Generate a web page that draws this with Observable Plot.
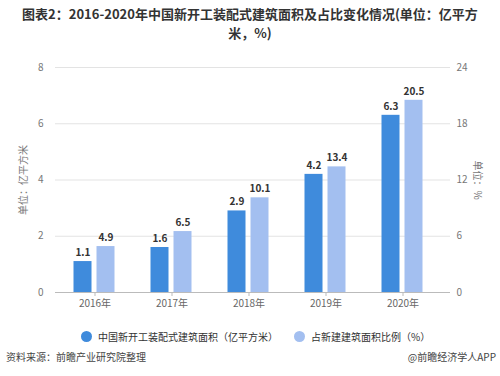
<!DOCTYPE html>
<html><head><meta charset="utf-8">
<script src="https://cdn.jsdelivr.net/npm/d3@7"></script>
<script src="https://cdn.jsdelivr.net/npm/@observablehq/plot@0.6"></script>
<style>
body{margin:0;background:#fff;font-family:"Noto Sans CJK SC","Noto Sans",sans-serif;}
#wrap{position:relative;width:500px;height:376px;overflow:hidden;background:#fff;}
.t{position:absolute;left:0;width:500px;text-align:center;font-size:13px;font-weight:bold;color:#333;line-height:15px;white-space:nowrap;}
#chart{position:absolute;left:0;top:40px;}
.ylab{position:absolute;font-size:10px;color:#777;white-space:nowrap;}
#legend{position:absolute;top:329px;left:0;width:500px;font-size:10px;color:#333;}
.lg{position:absolute;display:flex;align-items:center;white-space:nowrap;}
.dot{width:11px;height:11px;border-radius:50%;display:inline-block;margin-right:6px;}
#src{position:absolute;left:6px;top:349px;font-size:10px;color:#444;}
#app{position:absolute;right:4px;top:349px;font-size:10px;color:#444;}
</style></head>
<body>
<div id="wrap">
  <div class="t" style="top:6px;">图表2：2016-2020年中国新开工装配式建筑面积及占比变化情况(单位：亿平方</div>
  <div class="t" style="top:25px;">米，%)</div>
  <div id="chart"></div>
  <div class="ylab" id="yl" style="left:22px;top:180px;transform:translate(-50%,-50%) rotate(-90deg);">单位：亿平方米</div>
  <div class="ylab" id="yr" style="left:478px;top:180px;transform:translate(-50%,-50%) rotate(90deg);">单位：%</div>
  <div id="legend">
    <div class="lg" style="left:81px;"><span class="dot" style="background:#3f8bdc"></span>中国新开工装配式建筑面积（亿平方米）</div>
    <div class="lg" style="left:294px;"><span class="dot" style="background:#a3bff0"></span>占新建建筑面积比例（%）</div>
  </div>
  <div id="src">资料来源：前瞻产业研究院整理</div>
  <div id="app">@前瞻经济学人APP</div>
</div>
<script>
const years = ["2016年","2017年","2018年","2019年","2020年"];
const area = [1.1, 1.6, 2.9, 4.2, 6.3];
const share = [4.9, 6.5, 10.1, 13.4, 20.5];
const leftTicks = [0, 2, 4, 6, 8];
const rightTicks = [0, 6, 12, 18, 24];

const dark = "#3f8bdc", light = "#a3bff0";
const ratio = leftTicks[leftTicks.length-1] / rightTicks[rightTicks.length-1];
const dA = years.map((y,i)=>({year:y, v:area[i], label:area[i].toFixed(1)}));
const dS = years.map((y,i)=>({year:y, v:share[i]*ratio, label:share[i].toFixed(1)}));

const chart = Plot.plot({
  width: 500, height: 280,
  marginLeft: 55, marginRight: 50, marginTop: 27, marginBottom: 28,
  style: {fontFamily: '"Noto Sans CJK SC","Noto Sans",sans-serif', fontSize: "10px", color: "#666", background: "transparent"},
  x: {domain: years, range: [56, 441], padding: 0, label: null},
  y: {domain: [0, 8], label: null},
  marks: [
    Plot.ruleY(leftTicks.slice(1), {stroke: "#e3e3e3"}),
    Plot.ruleY([0], {stroke: "#bbb"}),
    Plot.barY(dA, {x: "year", y: "v", fill: dark, insetLeft: 17.5, insetRight: 41.5}),
    Plot.barY(dS, {x: "year", y: "v", fill: light, insetLeft: 40.5, insetRight: 18.5}),
    Plot.text(dA, {x: "year", y: "v", text: "label", dx: -12, dy: -9, fill: "#333", fontWeight: "bold", fontSize: 10}),
    Plot.text(dS, {x: "year", y: "v", text: "label", dx: 11, dy: -9, fill: "#333", fontWeight: "bold", fontSize: 10}),
    Plot.axisX({tickSize: 4, tickPadding: 3, stroke: "#bbb", fill: "#666"}),
    Plot.axisY(leftTicks, {anchor: "left", tickSize: 0, tickPadding: 12, fill: "#777"}),
    Plot.axisY(leftTicks, {anchor: "right", tickSize: 0, tickPadding: 6, fill: "#777",
      tickFormat: d => String(rightTicks[leftTicks.indexOf(d)])})
  ]
});
document.getElementById("chart").appendChild(chart);
</script>
</body></html>
